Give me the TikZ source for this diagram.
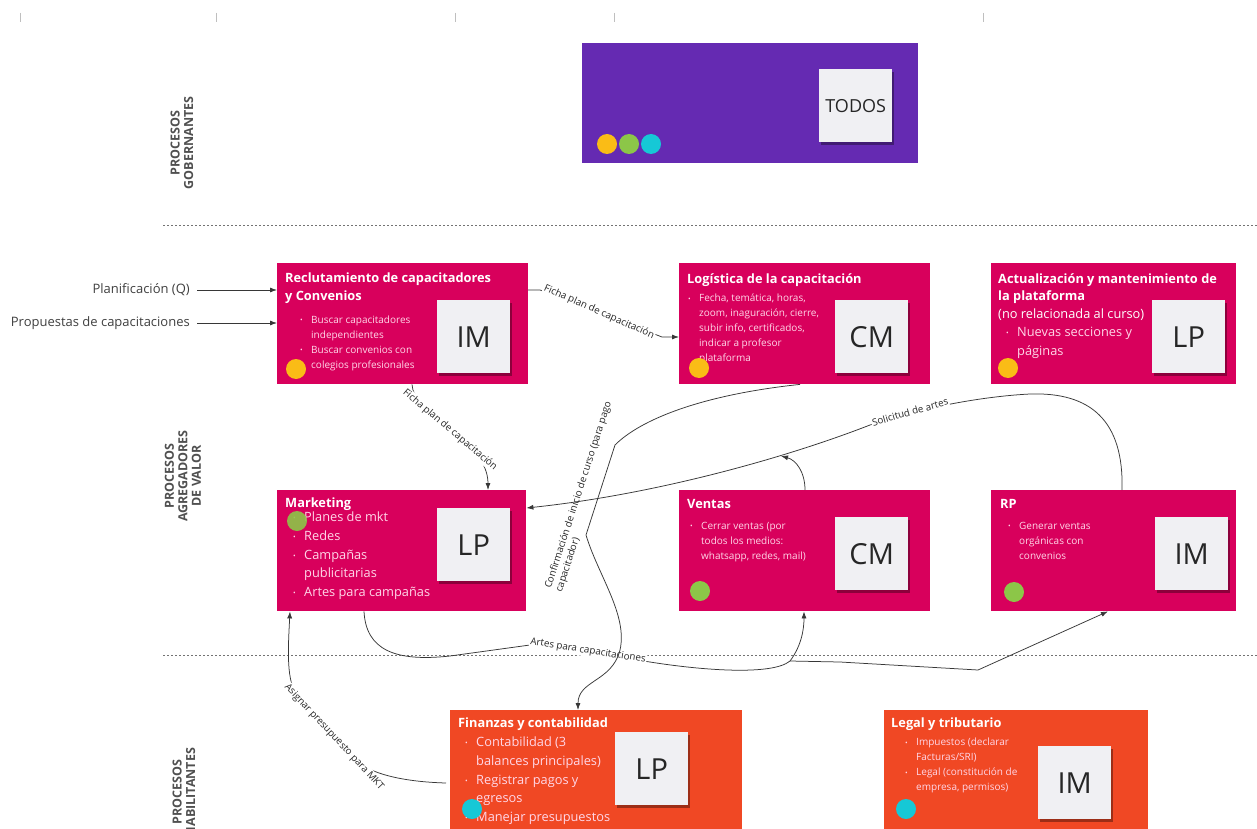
\documentclass[tikz,border=0pt]{standalone}
\usepackage{fontspec}
\setmainfont{Open Sans}
\usetikzlibrary{shadows,calc,arrows.meta}
\definecolor{mag}{RGB}{216,0,92}
\definecolor{ora}{RGB}{240,72,36}
\definecolor{pur}{RGB}{101,42,178}
\definecolor{dyel}{RGB}{250,188,22}
\definecolor{dgrn}{RGB}{140,198,72}
\definecolor{dcya}{RGB}{22,200,214}
\definecolor{note}{RGB}{240,240,243}
\definecolor{pinktxt}{RGB}{255,215,232}
\definecolor{lane}{RGB}{80,80,80}
\definecolor{conn}{RGB}{55,55,55}
\newcommand{\bul}{\makebox[11pt][l]{\raisebox{0.15ex}{\scriptsize\textbullet}}}
\newcommand{\ind}{\hspace*{11pt}}
\begin{document}
\begin{tikzpicture}[x=1pt,y=-1pt,
  procbox/.style={fill=mag, draw=none, anchor=north west, inner sep=0pt},
  orabox/.style={fill=ora, draw=none, anchor=north west, inner sep=0pt},
  sticky/.style={fill=note, draw=none, anchor=north west, inner sep=0pt, minimum width=73pt, minimum height=73pt,
     drop shadow={shadow xshift=1.5pt, shadow yshift=-3pt, fill=black, opacity=0.35},
     font=\fontsize{29}{29}\selectfont, text=black!85},
  ttl/.style={anchor=north west, inner sep=0pt, text=white, font=\bfseries\fontsize{12.8}{17.5}\selectfont, align=left},
  small/.style={anchor=north west, inner sep=0pt, text=pinktxt, font=\fontsize{10}{15}\selectfont, align=left},
  big/.style={anchor=north west, inner sep=0pt, text=pinktxt, font=\fontsize{12.8}{18.6}\selectfont, align=left},
  dot/.style={circle, inner sep=0pt, minimum size=20pt, draw=none},
  lanelab/.style={rotate=90, text=lane, font=\bfseries\fontsize{12.5}{13.5}\selectfont, align=center},
  inlab/.style={anchor=east, inner sep=0pt, text=black!75, font=\fontsize{13}{15}\selectfont},
  clab/.style={fill=white, inner sep=1pt, text=black!85, font=\fontsize{9.8}{11.5}\selectfont, align=center},
  cn/.style={draw=conn, line width=0.75pt, -{Latex[length=7pt,width=5pt]}},
  sep/.style={draw=black!55, line width=0.6pt, dash pattern=on 2pt off 2pt},
  tick/.style={draw=black!25, line width=0.6pt}]
\clip (0,0) rectangle (1257,829);
\fill[white] (0,0) rectangle (1257,829);

% top ticks
\foreach \x in {20,216,455,614,983} \draw[tick] (\x,13) -- (\x,22);

% separators
\draw[sep] (163,225) -- (1257,225);
\draw[sep] (163,655) -- (1257,655);

% lane labels
\node[lanelab] (lg) at (182,143) {PROCESOS\\GOBERNANTES};
\node[lanelab] (la) at (183,476) {PROCESOS\\AGREGADORES\\DE VALOR};
\node[lanelab] (lh) at (184,792) {PROCESOS\\HABILITANTES};

% governing box
\node[fill=pur, anchor=north west, inner sep=0pt, minimum width=336pt, minimum height=120pt] (gov) at (582,43) {};
\node[sticky, font=\fontsize{18}{18}\selectfont] (ngov) at (819,69) {TODOS};
\node[dot, fill=dyel] (g1) at (607,144) {};
\node[dot, fill=dgrn] (g2) at (629,144) {};
\node[dot, fill=dcya] (g3) at (651,144) {};

% Reclutamiento
\node[procbox, minimum width=251pt, minimum height=121pt] (rec) at (277,263) {};
\node[ttl] (trec) at (285,273) {Reclutamiento de capacitadores\\y Convenios};
\node[small] (brec) at (300,316) {\bul Buscar capacitadores\\\ind independientes\\\bul Buscar convenios con\\\ind colegios profesionales};
\node[sticky] (nrec) at (437,300) {IM};
\node[dot, fill=dyel] (drec) at (296,369) {};

% Logistica
\node[procbox, minimum width=251pt, minimum height=121pt] (log) at (679,263) {};
\node[ttl] (tlog) at (687,273) {Logística de la capacitación};
\node[small] (blog) at (688,294) {\bul Fecha, temática, horas,\\\ind zoom, inaguración, cierre,\\\ind subir info, certificados,\\\ind indicar a profesor\\\ind plataforma};
\node[sticky] (nlog) at (835,300) {CM};
\node[dot, fill=dyel] (dlog) at (699,368) {};

% Actualizacion
\node[procbox, minimum width=245pt, minimum height=121pt] (act) at (991,263) {};
\node[ttl] (tact) at (998,273) {Actualización y mantenimiento de\\la plataforma};
\node[big, text=white] (sact) at (998,309) {(no relacionada al curso)};
\node[big] (bact) at (1006,327) {\bul Nuevas secciones y\\\ind páginas};
\node[sticky] (nact) at (1152,300) {LP};
\node[dot, fill=dyel] (dact) at (1008,368) {};

% Marketing
\node[procbox, minimum width=249pt, minimum height=121pt] (mkt) at (277,490) {};
\node[ttl] (tmkt) at (285,498) {Marketing};
\node[big] (bmkt) at (293,512) {\bul Planes de mkt\\\bul Redes\\\bul Campañas\\\ind publicitarias\\\bul Artes para campañas};
\node[sticky] (nmkt) at (437,508) {LP};
\node[dot, fill=dgrn, opacity=0.9] (dmkt) at (297,521) {};

% Ventas
\node[procbox, minimum width=251pt, minimum height=121pt] (ven) at (679,490) {};
\node[ttl] (tven) at (687,499) {Ventas};
\node[small] (bven) at (690,522) {\bul Cerrar ventas (por\\\ind todos los medios:\\\ind whatsapp, redes, mail)};
\node[sticky] (nven) at (835,517) {CM};
\node[dot, fill=dgrn] (dven) at (700,591) {};

% RP
\node[procbox, minimum width=245pt, minimum height=121pt] (rp) at (991,490) {};
\node[ttl] (trp) at (1000,499) {RP};
\node[small] (brp) at (1008,522) {\bul Generar ventas\\\ind orgánicas con\\\ind convenios};
\node[sticky] (nrp) at (1155,517) {IM};
\node[dot, fill=dgrn] (drp) at (1014,592) {};

% Finanzas
\node[orabox, minimum width=292pt, minimum height=130pt] (fin) at (450,710) {};
\node[ttl] (tfin) at (458,718) {Finanzas y contabilidad};
\node[big] (bfin) at (465,737) {\bul Contabilidad (3\\\ind balances principales)\\\bul Registrar pagos y\\\ind egresos\\\bul Manejar presupuestos};
\node[sticky] (nfin) at (615,732) {LP};
\node[dot, fill=dcya] (dfin) at (472,809) {};

% Legal
\node[orabox, minimum width=264pt, minimum height=130pt] (leg) at (884,710) {};
\node[ttl] (tleg) at (891,718) {Legal y tributario};
\node[small] (bleg) at (905,738) {\bul Impuestos (declarar\\\ind Facturas/SRI)\\\bul Legal (constitución de\\\ind empresa, permisos)};
\node[sticky] (nleg) at (1038,746) {IM};
\node[dot, fill=dcya] (dleg) at (906,809) {};

% inputs
\node[inlab] (iplan) at (190,290) {Planificación (Q)};
\node[inlab] (iprop) at (190,323) {Propuestas de capacitaciones};
\draw[cn] (iplan.east) ++(7,0) -- (rec.west |- iplan.east);
\draw[cn] (iprop.east) ++(7,0) -- (rec.west |- iprop.east);

% Artes para capacitaciones
\coordinate (br) at (790,661);
\draw[cn] ($(mkt.south west)+(87,0)$) .. controls (366,650) and (395,662) .. (450,656)
   -- (530,645) -- (650,662) .. controls (700,670) and (772,676) .. (br)
   .. controls (802,645) and (804,628) .. ($(ven.south west)+(125,0)$);
\draw[cn] (br) -- (840,662) -- (978,670) -- ($(rp.south west)+(117,0)$);
\node[clab, rotate=-9] (lart) at (588,651) {Artes para capacitaciones};

% Asignar presupuesto
\draw[cn] ($(fin.north west)+(-4,73)$) .. controls (410,782) and (375,776) .. (358,762)
   -- (298,697) .. controls (286,682) and (288,650) .. ($(mkt.south west)+(13,0)$);
\node[clab, rotate=-47] (lasg) at (334,737) {Asignar presupuesto para MKT};

% Confirmacion
\draw[cn] ($(log.south west)+(121,0)$) .. controls (700,395) and (640,420) .. (615,445)
   -- (586,535) .. controls (598,575) and (628,615) .. (620,650)
   .. controls (612,682) and (578,680) .. ($(fin.north west)+(128,0)$);
\node[clab, rotate=72, align=left] (lconf) at (584,497) {Confirmación de inicio de curso (para pago\\capacitador)};

% Solicitud de artes
\draw[cn] ($(rp.north west)+(131,0)$) .. controls (1124,420) and (1090,392) .. (1030,394)
   .. controls (990,396) and (930,405) .. (870,425)
   .. controls (780,460) and (650,495) .. ($(mkt.north east)+(0,18)$);
\node[clab, rotate=16] (lsol) at (910,412) {Solicitud de artes};
\coordinate (sa) at (781,456);
\draw[cn] ($(ven.north west)+(126,0)$) .. controls (805,472) and (796,460) .. (sa);

% Ficha plan (rec -> log)
\draw[cn] ($(rec.north west)+(251,27)$) -- (540,290) -- (662,337) -- ($(log.north west)+(0,74)$);
\node[clab, rotate=-24] (lf1) at (599,312) {Ficha plan de capacitación};

% Ficha plan (rec -> mkt)
\draw[cn] ($(rec.south west)+(135,0)$) .. controls (412,412) and (488,440) .. ($(mkt.north west)+(211,0)$);
\node[clab, rotate=-40] (lf2) at (450,430) {Ficha plan de capacitación};
\end{tikzpicture}
\end{document}
